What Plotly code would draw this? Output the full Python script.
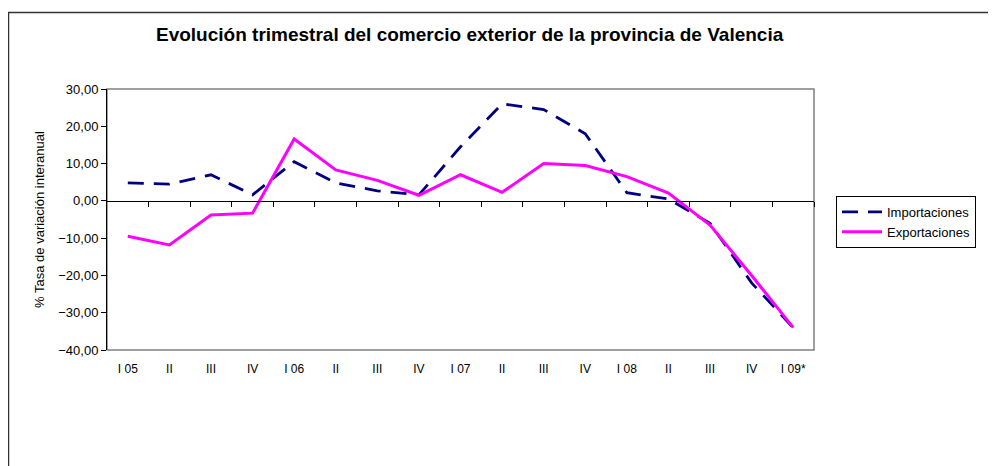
import plotly.graph_objects as go

categories = ["I 05", "II", "III", "IV", "I 06", "II ", "III ", "IV ", "I 07", "II  ", "III  ", "IV  ",
              "I 08", "II   ", "III   ", "IV   ", "I 09*"]
tick_labels = ["I 05", "II", "III", "IV", "I 06", "II", "III", "IV", "I 07", "II", "III", "IV",
               "I 08", "II", "III", "IV", "I 09*"]
importaciones = [4.8, 4.5, 7.0, 1.6, 10.5, 4.8, 2.7, 1.6, 14.5, 26.0, 24.5, 18.0,
                 2.2, 0.5, -6.0, -22.0, -34.0]
exportaciones = [-9.5, -11.8, -3.8, -3.3, 16.6, 8.3, 5.5, 1.5, 7.0, 2.3, 10.0, 9.5,
                 6.5, 2.1, -6.5, -20.0, -34.0]
y_ticks = [30, 20, 10, 0, -10, -20, -30, -40]

OFF = 8  # page body margin
W, H = 996 - OFF, 466 - OFF
L = 107 - OFF
T = 89 - OFF
R = W - (814 - OFF)
B = H - (350 - OFF)

xs = list(range(len(categories)))

fig = go.Figure()
fig.add_trace(go.Scatter(x=xs, y=importaciones, mode="lines", name="Importaciones",
                         line=dict(color="#000080", width=2.8, dash="16px,10px")))
fig.add_trace(go.Scatter(x=xs, y=exportaciones, mode="lines", name="Exportaciones",
                         line=dict(color="#FF00FF", width=3)))
# dummy trace to activate xaxis2 (zero-line axis with boundary ticks)
fig.add_trace(go.Scatter(x=[xs[0]], y=[0], xaxis="x2", mode="markers",
                         marker=dict(opacity=0), showlegend=False, hoverinfo="skip"))

ymin, ymax = -40, 30
zero_pos = (0 - ymin) / (ymax - ymin)

pw = W - L - R
ph = H - T - B

def px2paper_x(p):
    return (p - OFF - L) / pw

def px2paper_y(p):
    return 1 - (p - OFF - T) / ph

fig.update_layout(
    width=W, height=H,
    margin=dict(l=L, r=R, t=T, b=B),
    paper_bgcolor="white", plot_bgcolor="white",
    font=dict(family="Liberation Sans, Arial, sans-serif", size=12, color="black"),
    separators=",.",
    showlegend=True,
    legend=dict(x=px2paper_x(836), y=px2paper_y(196), xanchor="left", yanchor="top",
                bgcolor="white", bordercolor="black", borderwidth=1,
                font=dict(size=13), tracegroupgap=0, itemwidth=40),
    xaxis=dict(range=[-0.5, len(xs) - 0.5], tickvals=xs, ticktext=tick_labels,
               showgrid=False, zeroline=False, showline=False, ticks="",
               tickfont=dict(size=12), ticklabelstandoff=10),
    xaxis2=dict(range=[-0.5, len(xs) - 0.5], overlaying="x", anchor="free",
                position=zero_pos, side="bottom",
                tickvals=[i + 0.5 for i in xs[:-1]] + [len(xs) - 0.5], showticklabels=False,
                showgrid=False, zeroline=False, showline=True, linecolor="black", linewidth=1,
                ticks="outside", ticklen=5, tickcolor="black"),
    yaxis=dict(range=[ymin, ymax], tickvals=y_ticks, tickformat=".2f",
               showgrid=False, zeroline=False, showline=True, linecolor="black", linewidth=1,
               ticks="outside", ticklen=5, tickcolor="black", tickfont=dict(size=13),
               title=dict(text="% Tasa de variación interanual", font=dict(size=13), standoff=10)),
)

# plot area gray border
fig.add_shape(type="rect", xref="paper", yref="paper", x0=0, x1=1, y0=0, y1=1,
              line=dict(color="#808080", width=1.5), layer="below")
# outer chart border
fig.add_shape(type="rect", xref="paper", yref="paper",
              x0=px2paper_x(8.5), x1=px2paper_x(1010), y0=px2paper_y(480), y1=px2paper_y(12.5),
              line=dict(color="#333333", width=1.5))

fig.add_annotation(text="<b>Evolución trimestral del comercio exterior de la provincia de Valencia</b>",
                   xref="paper", yref="paper", x=px2paper_x(470), y=px2paper_y(34),
                   showarrow=False, font=dict(size=19, color="black"),
                   xanchor="center", yanchor="middle")

fig.write_html("out.html")
